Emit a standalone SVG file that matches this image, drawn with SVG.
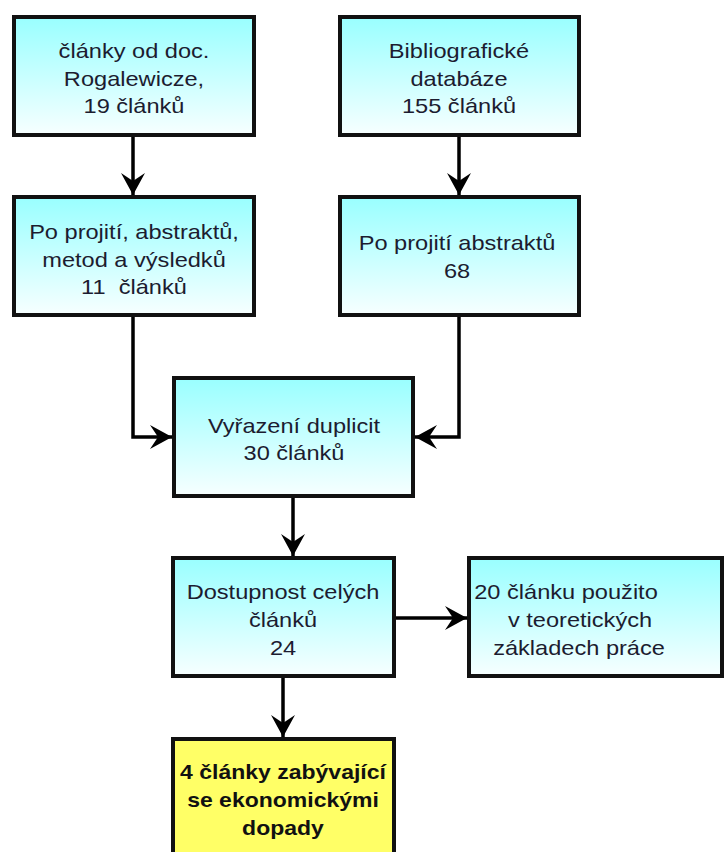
<svg xmlns="http://www.w3.org/2000/svg" width="726" height="852" viewBox="0 0 726 852">
<defs>
<linearGradient id="cyan" x1="0" y1="0" x2="0" y2="1">
<stop offset="0" stop-color="#99FFFF"/>
<stop offset="1" stop-color="#F7FFFF"/>
</linearGradient>
<marker id="arr" markerUnits="userSpaceOnUse" markerWidth="24" markerHeight="26" refX="22" refY="12" orient="auto" viewBox="0 0 24 24">
<path d="M0,0 L22,12 L0,24 L8,12 Z" fill="#000"/>
</marker>
<style>
.box{fill:url(#cyan);stroke:#111;stroke-width:4}
.yel{fill:#FFFF66;stroke:#111;stroke-width:4}
.t{font-family:"Liberation Sans",Arial,sans-serif;font-size:20px;fill:#1c1c30;text-anchor:middle}
.b{font-weight:bold;fill:#111}
.c{fill:none;stroke:#000;stroke-width:3.5;marker-end:url(#arr)}
</style>
</defs>
<rect width="726" height="852" fill="#fff"/>
<g id="connectors">
<path class="c" d="M133,137 L133,195"/>
<path class="c" d="M459,137 L459,195"/>
<path class="c" d="M133,317 L133,437 L172,437"/>
<path class="c" d="M459,317 L459,437 L415,437"/>
<path class="c" d="M293,498 L293,556"/>
<path class="c" d="M396,618 L467,618"/>
<path class="c" d="M283,678 L283,737"/>
</g>
<g id="n1">
<rect class="box" x="14" y="17" width="240" height="118"/>
<text class="t" transform="translate(134,0) scale(1.18,1)"><tspan x="0" y="58">články od doc.</tspan><tspan x="0" y="86">Rogalewicze,</tspan><tspan x="0" y="113">19 článků</tspan></text>
</g>
<g id="n2">
<rect class="box" x="14" y="197" width="240" height="118"/>
<text class="t" transform="translate(134,0) scale(1.18,1)"><tspan x="0" y="239">Po projití, abstraktů,</tspan><tspan x="0" y="267">metod a výsledků</tspan><tspan x="0" y="294">11&#160; článků</tspan></text>
</g>
<g id="n3">
<rect class="box" x="340" y="17" width="239" height="118"/>
<text class="t" transform="translate(459,0) scale(1.18,1)"><tspan x="0" y="58">Bibliografické</tspan><tspan x="0" y="86">databáze</tspan><tspan x="0" y="113">155 článků</tspan></text>
</g>
<g id="n4">
<rect class="box" x="340" y="197" width="239" height="118"/>
<text class="t" transform="translate(457,0) scale(1.18,1)"><tspan x="0" y="250">Po projití abstraktů</tspan><tspan x="0" y="278">68</tspan></text>
</g>
<g id="n5">
<rect class="box" x="174" y="378" width="239" height="118"/>
<text class="t" transform="translate(294,0) scale(1.18,1)"><tspan x="0" y="433">Vyřazení duplicit</tspan><tspan x="0" y="460">30 článků</tspan></text>
</g>
<g id="n6">
<rect class="box" x="173" y="558" width="221" height="118"/>
<text class="t" transform="translate(283,0) scale(1.18,1)"><tspan x="0" y="599">Dostupnost celých</tspan><tspan x="0" y="627">článků</tspan><tspan x="0" y="655">24</tspan></text>
</g>
<g id="n7">
<rect class="box" x="469" y="558" width="253" height="118"/>
<text class="t" transform="translate(566,0) scale(1.18,1)"><tspan x="0" y="599">20 článku použito</tspan></text>
<text class="t" transform="translate(580,0) scale(1.18,1)"><tspan x="0" y="627">v teoretických</tspan></text>
<text class="t" transform="translate(579,0) scale(1.18,1)"><tspan x="0" y="655">základech práce</tspan></text>
</g>
<g id="n8">
<rect class="yel" x="173" y="739" width="221" height="130"/>
<text class="t b" transform="translate(283,0) scale(1.15,1)"><tspan x="0" y="779">4 články zabývající</tspan><tspan x="0" y="807">se ekonomickými</tspan><tspan x="0" y="835">dopady</tspan></text>
</g>
</svg>
